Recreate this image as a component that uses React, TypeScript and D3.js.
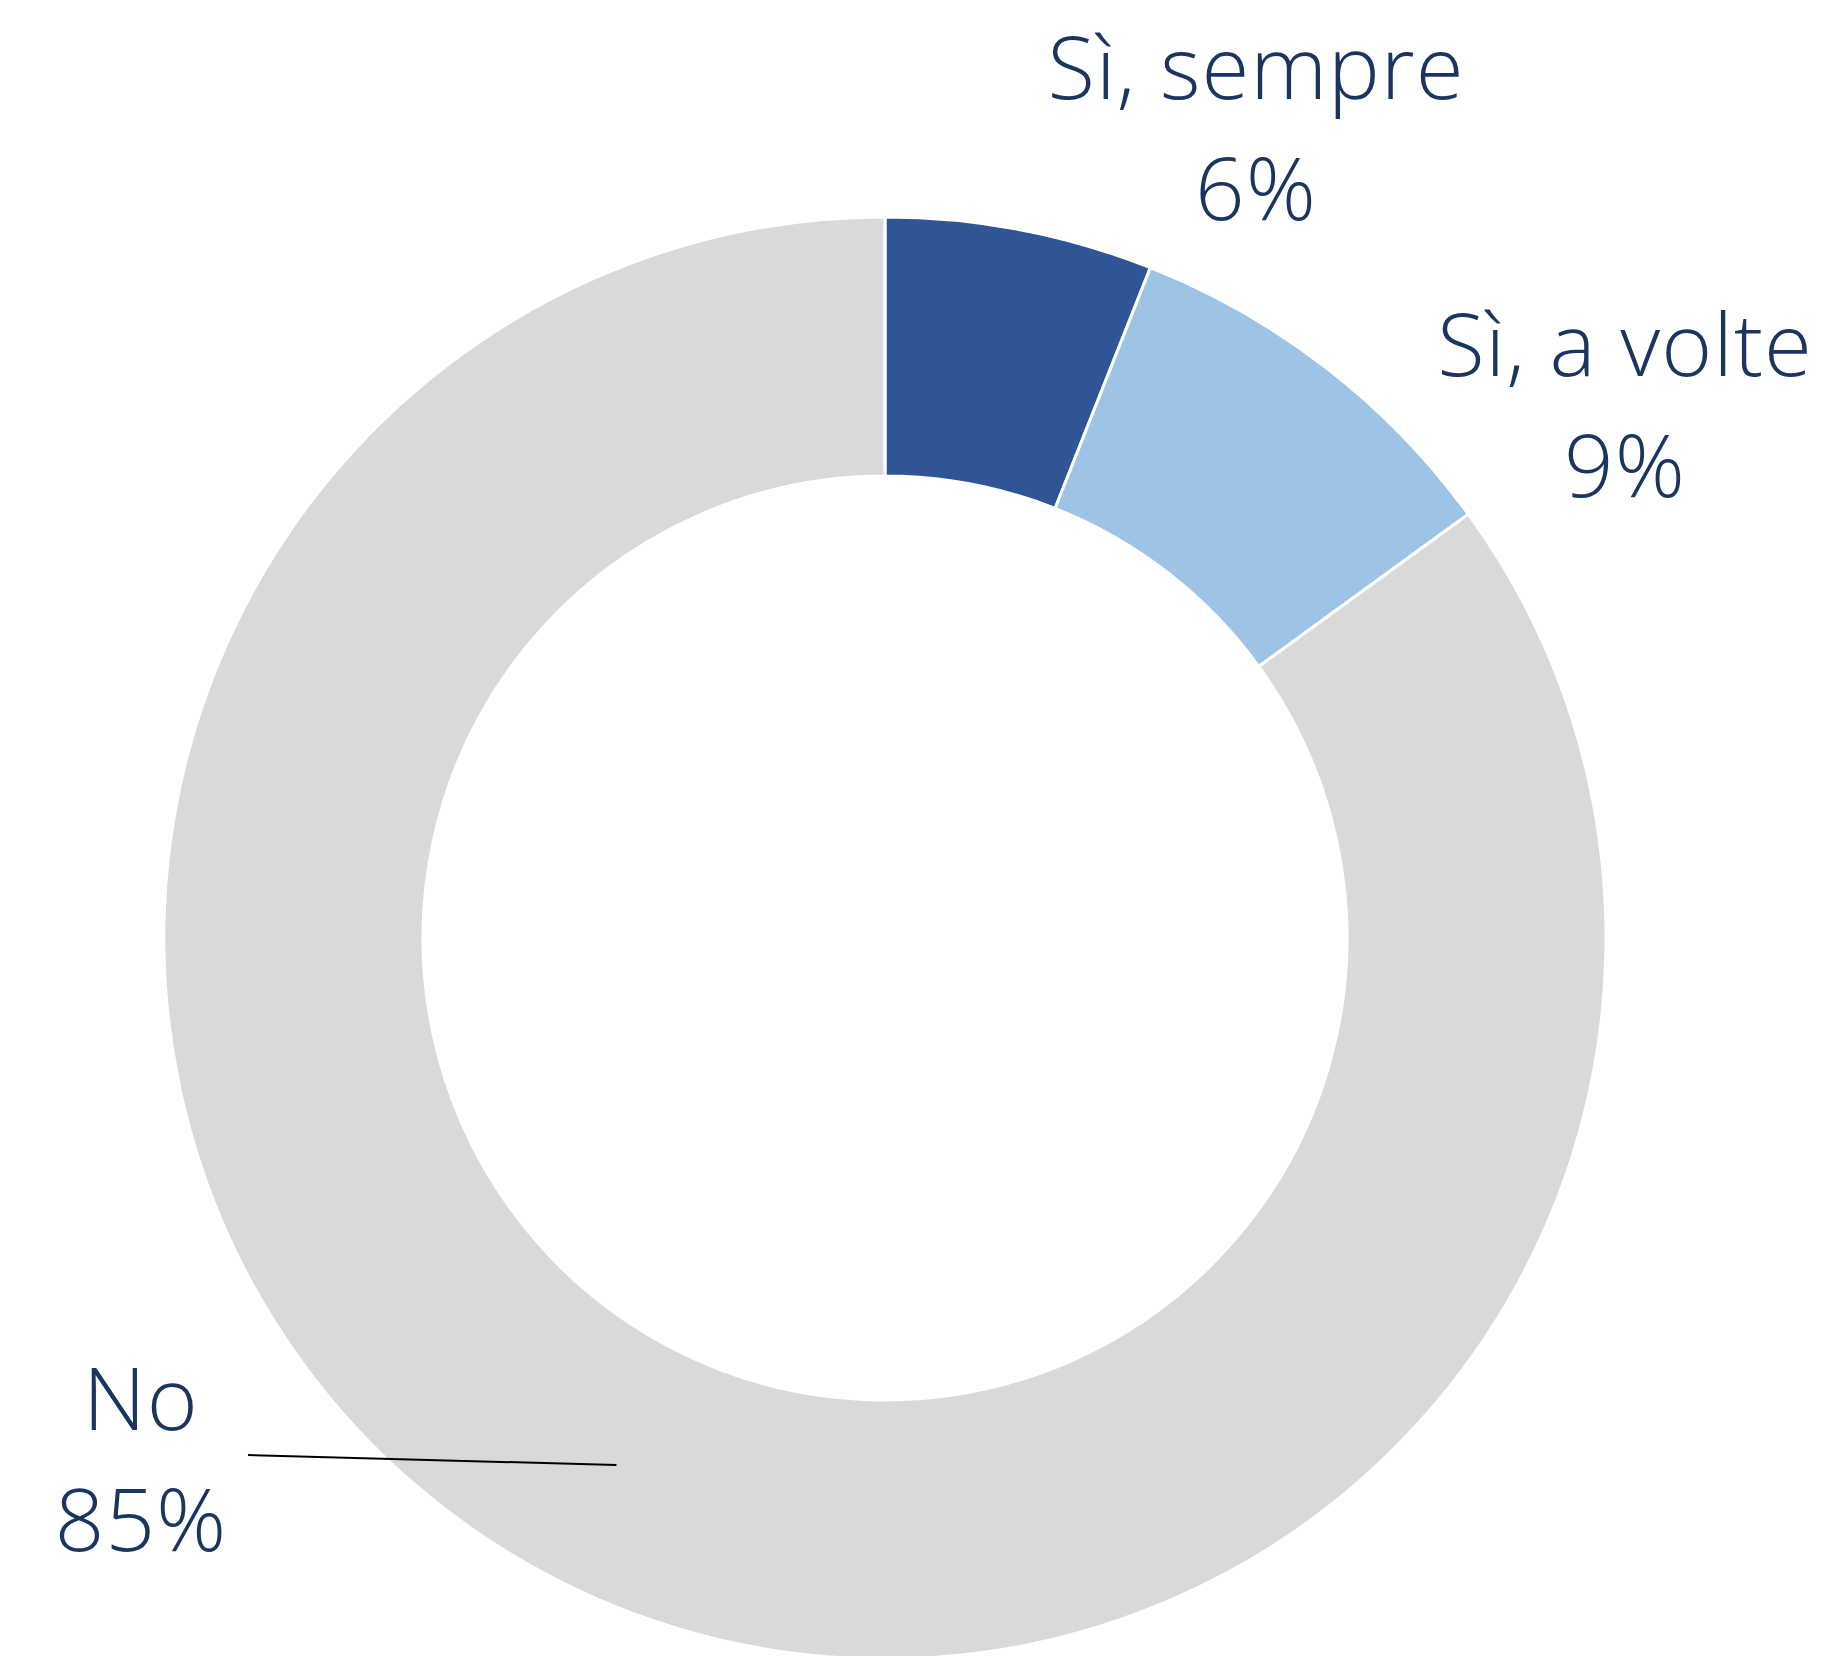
import React from "react";
import * as d3 from "d3";

const categories = ["Sì, sempre", "Sì, a volte", "No"];
const values = [6, 9, 85];
const valueLabels = ["6%", "9%", "85%"];
const colors = ["#2F5597", "#9DC3E6", "#D9D9D9"];

const W = 1833;
const H = 1656;
const CX = 885;
const CY = 938;
const R_OUT = 721;
const R_IN = 462;
const FONT = 87;
const LINE_H = 121;
const TEXT_COLOR = "#1A3560";

// label anchor (center x, baseline of first line)
const labelPos = [
  { x: 1256, y: 99 },
  { x: 1625, y: 376 },
  { x: 141, y: 1430 },
];

export default function App() {
  const pie = d3.pie<number>().sort(null).value((d) => d);
  const arcs = pie(values);
  const arc = d3.arc<d3.PieArcDatum<number>>().innerRadius(R_IN).outerRadius(R_OUT);

  const noCentroid = arc.centroid(arcs[2]);

  return (
    <svg
      width={W}
      height={H}
      style={{ position: "absolute", left: 0, top: 0, background: "#fff" }}
      fontFamily="'Open Sans', sans-serif"
    >
      <rect width={W} height={H} fill="#fff" />
      <g transform={`translate(${CX},${CY})`}>
        {arcs.map((a, i) => (
          <path key={i} d={arc(a) || ""} fill={colors[i]} stroke="#fff" strokeWidth={3} />
        ))}
      </g>
      <line
        x1={248}
        y1={1455}
        x2={CX + noCentroid[0]}
        y2={CY + noCentroid[1]}
        stroke="#000"
        strokeWidth={2}
      />
      {categories.map((c, i) => (
        <text
          key={c}
          x={labelPos[i].x}
          y={labelPos[i].y}
          textAnchor="middle"
          fontSize={FONT}
          fontWeight={350}
          letterSpacing={1}
          fill={TEXT_COLOR}
        >
          <tspan x={labelPos[i].x}>{c}</tspan>
          <tspan x={labelPos[i].x} dy={LINE_H}>
            {valueLabels[i]}
          </tspan>
        </text>
      ))}
    </svg>
  );
}
